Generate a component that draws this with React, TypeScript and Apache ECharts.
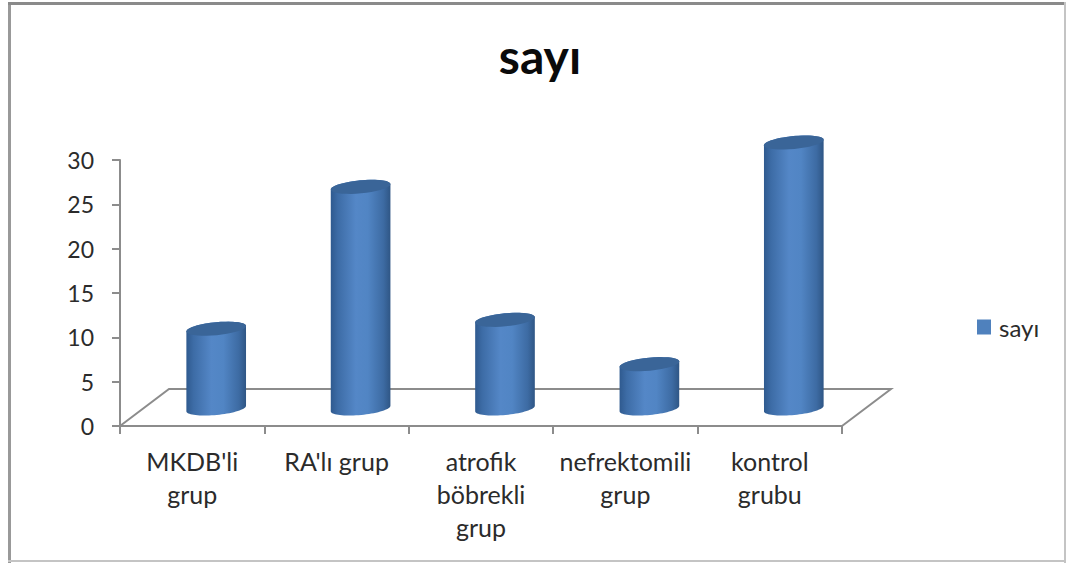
import React, { useEffect, useRef } from "react";
import * as echarts from "echarts";

const categories = ["MKDB'li\ngrup", "RA'lı grup", "atrofik\nböbrekli\ngrup", "nefrektomili\ngrup", "kontrol\ngrubu"];
const counts = [9, 25, 10, 5, 30];
const seriesName = "sayı";
const yTicks = { min: 0, max: 30, interval: 5 };

const FONT = "Lato, 'Open Sans', sans-serif";
const AXIS_GREY = "#8c8c8c";
const TEXT = "#2b2b2b";

// Offset from the front axis to the middle of the receding floor.
const DEPTH_X = 24;
const DEPTH_Y = -17.5;
const TILT = (-5.5 * Math.PI) / 180;
const RY = 6.5;
const STEPS = 36;

// Point on a tilted ellipse; angle 0 is the right end, PI/2 the lowest side.
function rim(cx: number, cy: number, rx: number, angle: number): number[] {
  const ex = rx * Math.cos(angle);
  const ey = RY * Math.sin(angle);
  return [cx + ex * Math.cos(TILT) - ey * Math.sin(TILT), cy + ex * Math.sin(TILT) + ey * Math.cos(TILT)];
}

function arcPoints(cx: number, cy: number, rx: number, from: number, to: number): number[][] {
  const pts: number[][] = [];
  for (let i = 0; i <= STEPS; i++) pts.push(rim(cx, cy, rx, from + ((to - from) * i) / STEPS));
  return pts;
}

function renderCylinder(params: any, api: any) {
  const cat = api.value(0);
  const base = api.coord([cat, 0]);
  const top = api.coord([cat, api.value(1)]);
  const cx = base[0] + DEPTH_X;
  const by = base[1] + DEPTH_Y;
  const ty = top[1] + DEPTH_Y;
  const rx = (api.size([1, 0])[0] * 0.415) / 2;
  const side = new echarts.graphic.LinearGradient(0, 0, 1, 0, [
    { offset: 0, color: "#2f5a8f" },
    { offset: 0.12, color: "#3d6ca6" },
    { offset: 0.42, color: "#5487c7" },
    { offset: 0.62, color: "#5185c4" },
    { offset: 0.88, color: "#3d6ba3" },
    { offset: 1, color: "#2f5685" },
  ]);
  const bodyPoints = [
    ...arcPoints(cx, by, rx, 0, Math.PI),
    ...arcPoints(cx, ty, rx, Math.PI, 2 * Math.PI),
  ];
  const capPoints = arcPoints(cx, ty, rx, 0, 2 * Math.PI);
  return {
    type: "group",
    children: [
      { type: "polygon", shape: { points: bodyPoints }, style: { fill: side } },
      { type: "polygon", shape: { points: capPoints }, style: { fill: "#3a6598" } },
    ],
  };
}

export default function App() {
  const ref = useRef<HTMLDivElement>(null);

  useEffect(() => {
    const chart = echarts.init(ref.current!, undefined, { renderer: "svg" });
    chart.setOption({
      animation: false,
      backgroundColor: "#ffffff",
      title: {
        text: seriesName,
        left: 535,
        top: 26,
        textAlign: "center",
        textStyle: { fontFamily: FONT, fontSize: 48, fontWeight: "bold", color: "#0a0a0a" },
      },
      legend: {
        left: 972,
        top: 310,
        orient: "vertical",
        icon: "rect",
        itemWidth: 14,
        itemHeight: 15,
        itemGap: 0,
        data: [seriesName],
        textStyle: { fontFamily: FONT, fontSize: 24, color: TEXT, padding: [0, 0, 0, 3] },
      },
      grid: { left: 120, top: 160, width: 722, height: 266 },
      xAxis: {
        type: "category",
        data: categories,
        boundaryGap: true,
        axisLine: { lineStyle: { color: AXIS_GREY, width: 2 } },
        axisTick: { show: true, interval: 0, length: 8, lineStyle: { color: AXIS_GREY, width: 2 } },
        axisLabel: {
          interval: 0,
          margin: 18,
          lineHeight: 33,
          fontFamily: FONT,
          fontSize: 25,
          color: TEXT,
        },
      },
      yAxis: {
        type: "value",
        min: yTicks.min,
        max: yTicks.max,
        interval: yTicks.interval,
        splitLine: { show: false },
        axisLine: { show: true, lineStyle: { color: AXIS_GREY, width: 2 } },
        axisTick: { show: true, length: 8, lineStyle: { color: AXIS_GREY, width: 2 } },
        axisLabel: { margin: 26, fontFamily: FONT, fontSize: 23, color: TEXT },
      },
      graphic: [
        // Page frame
        { type: "rect", shape: { x: 8, y: 2, width: 3, height: 561 }, style: { fill: "#999999" } },
        { type: "rect", shape: { x: 8, y: 2, width: 1058, height: 3 }, style: { fill: "#8a8a8a" } },
        { type: "rect", shape: { x: 1064, y: 2, width: 2, height: 561 }, style: { fill: "#c4c4c4" } },
        { type: "rect", shape: { x: 8, y: 560, width: 1058, height: 2 }, style: { fill: "#c4c4c4" } },
        // Receding edges of the floor
        {
          type: "polyline",
          z: 0,
          shape: { points: [[120, 426], [169, 389], [891, 389], [842, 426]] },
          style: { fill: "none", stroke: AXIS_GREY, lineWidth: 2 },
        },
      ],
      series: [
        {
          type: "custom",
          name: seriesName,
          coordinateSystem: "cartesian2d",
          clip: false,
          z: 5,
          itemStyle: { color: "#4f81bd" },
          renderItem: renderCylinder,
          encode: { x: 0, y: 1 },
          data: counts.map((v, i) => [i, v]),
        },
      ],
    });
    return () => chart.dispose();
  }, []);

  return <div ref={ref} style={{ position: "fixed", left: 0, top: 0, width: 1066, height: 563 }} />;
}
